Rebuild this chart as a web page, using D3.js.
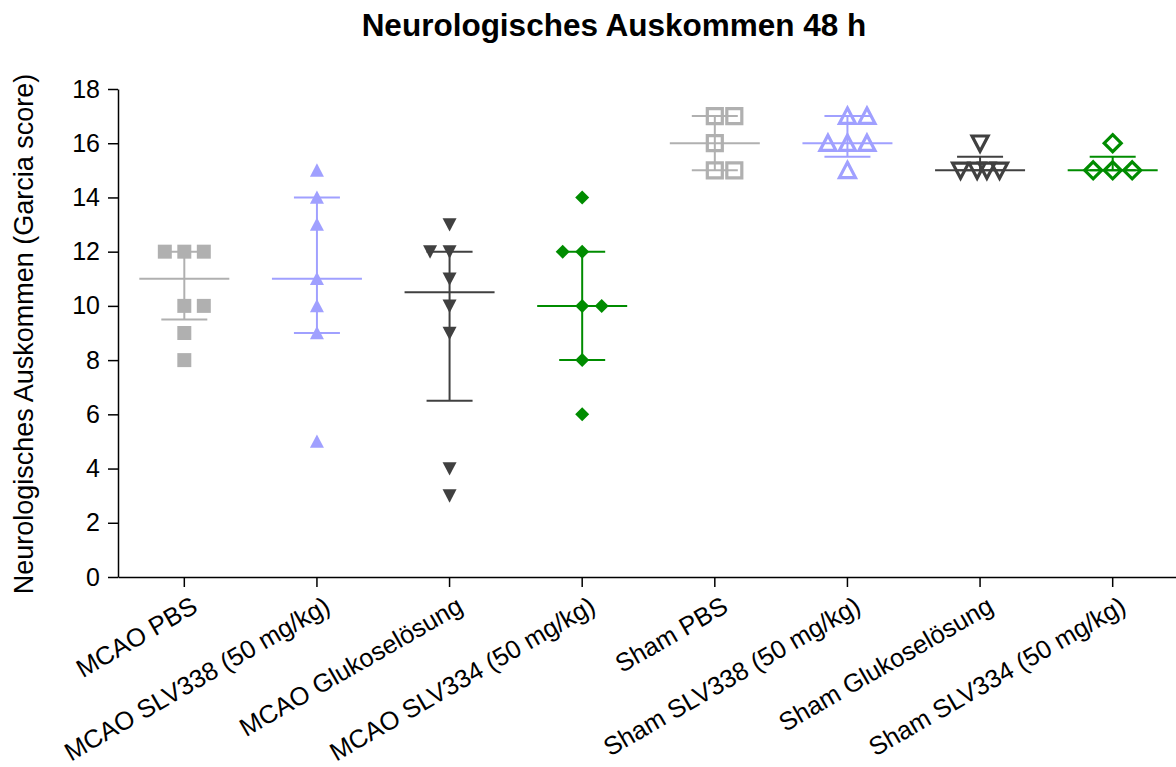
<!DOCTYPE html>
<html>
<head>
<meta charset="utf-8">
<script src="https://cdn.jsdelivr.net/npm/d3@7"></script>
<style>
  html, body { margin: 0; padding: 0; background: #fff; }
  svg { display: block; font-family: "Liberation Sans", Arial, sans-serif; }
</style>
</head>
<body>
<svg id="chart" width="1176" height="767"></svg>
<script>
// Groups along the x axis
const categories = [
  "MCAO PBS", "MCAO SLV338 (50 mg/kg)", "MCAO Glukoselösung", "MCAO SLV334 (50 mg/kg)",
  "Sham PBS", "Sham SLV338 (50 mg/kg)", "Sham Glukoselösung", "Sham SLV334 (50 mg/kg)"
];

// Individual Garcia scores per group
const scoresMcaoPbs     = [12, 12, 12, 10, 10, 9, 8];
const scoresMcaoSlv338  = [15, 14, 13, 11, 10, 9, 5];
const scoresMcaoGlukose = [13, 12, 12, 11, 10, 9, 4, 3];
const scoresMcaoSlv334  = [14, 12, 12, 10, 10, 8, 6];
const scoresShamPbs     = [17, 17, 16, 15, 15];
const scoresShamSlv338  = [17, 17, 16, 16, 16, 15];
const scoresShamGlukose = [16, 15, 15, 15, 15];
const scoresShamSlv334  = [16, 15, 15, 15];

// Scatter column of each score inside its group (0 = centre)
const lanesMcaoPbs     = [-1, 0, 1, 0, 1, 0, 0];
const lanesMcaoSlv338  = [0, 0, 0, 0, 0, 0, 0];
const lanesMcaoGlukose = [0, -1, 0, 0, 0, 0, 0, 0];
const lanesMcaoSlv334  = [0, -1, 0, 0, 1, 0, 0];
const lanesShamPbs     = [0, 1, 0, 0, 1];
const lanesShamSlv338  = [0, 1, -1, 0, 1, 0];
const lanesShamGlukose = [0, -1, -0.15, 0.35, 1];
const lanesShamSlv334  = [0, -1, 0, 1];

// Median and interquartile range per group
const medians = [11, 11, 10.5, 10, 16, 16, 15, 15];
const q1      = [9.5, 9, 6.5, 8, 15, 15.5, 15, 15];
const q3      = [12, 14, 12, 12, 17, 17, 15.5, 15.5];

const yTicks = [0, 2, 4, 6, 8, 10, 12, 14, 16, 18];

const scores = [scoresMcaoPbs, scoresMcaoSlv338, scoresMcaoGlukose, scoresMcaoSlv334,
                scoresShamPbs, scoresShamSlv338, scoresShamGlukose, scoresShamSlv334];
const lanes  = [lanesMcaoPbs, lanesMcaoSlv338, lanesMcaoGlukose, lanesMcaoSlv334,
                lanesShamPbs, lanesShamSlv338, lanesShamGlukose, lanesShamSlv334];

// Styling per group
const colors  = ["#b0b0b0", "#a0a0ff", "#404040", "#008c00",
                 "#b0b0b0", "#a0a0ff", "#404040", "#008c00"];
const shapes  = ["square", "up", "down", "diamond", "square", "up", "down", "diamond"];
const hollow  = [false, false, false, false, true, true, true, true];

const svg = d3.select("#chart");
const margin = { left: 118, top: 89, bottom: 577 };
const xRight = 1179;

const x = d3.scaleBand().domain(categories).range([margin.left, xRight]).paddingInner(0).paddingOuter(0);
const y = d3.scaleLinear().domain([0, 18]).range([margin.bottom, margin.top]);
const lane = d3.scaleLinear().domain([-1, 1]).range([-19.5, 19.5]);
const cx = c => x(c) + x.bandwidth() / 2;

// Title
svg.append("text")
  .attr("x", 614).attr("y", 36)
  .attr("text-anchor", "middle")
  .attr("font-size", 31.5).attr("font-weight", "bold")
  .text("Neurologisches Auskommen 48 h");

// Y axis
const yAxis = svg.append("g")
  .attr("transform", `translate(${margin.left},0)`)
  .call(d3.axisLeft(y).tickValues(yTicks).tickSize(10).tickPadding(8).tickSizeOuter(0));
yAxis.selectAll("text").attr("font-size", 25).attr("font-family", "Liberation Sans, Arial, sans-serif").attr("fill", "#000");
yAxis.selectAll("line, path").attr("stroke", "#000").attr("stroke-width", 1.5);

svg.append("text")
  .attr("transform", `translate(33,${(margin.top + margin.bottom) / 2 + 1}) rotate(-90)`)
  .attr("text-anchor", "middle")
  .attr("font-size", 27)
  .text("Neurologisches Auskommen (Garcia score)");

// X axis
const xAxis = svg.append("g")
  .attr("transform", `translate(0,${margin.bottom})`)
  .call(d3.axisBottom(x).tickSize(10).tickSizeOuter(0));
xAxis.selectAll("line, path").attr("stroke", "#000").attr("stroke-width", 1.5);
xAxis.selectAll("text")
  .attr("font-size", 25.5)
  .attr("font-family", "Liberation Sans, Arial, sans-serif")
  .attr("fill", "#000")
  .attr("text-anchor", "end")
  .attr("dy", null)
  .attr("y", null)
  .attr("transform", "translate(15,34) rotate(-30)");

// Median lines and interquartile bars
const summary = svg.append("g");
categories.forEach((c, i) => {
  const g = summary.append("g").attr("stroke", colors[i]).attr("stroke-width", 2).attr("fill", "none");
  const xc = cx(c);
  g.append("line").attr("x1", xc).attr("x2", xc).attr("y1", y(q1[i])).attr("y2", y(q3[i]));
  g.append("line").attr("x1", xc - 45).attr("x2", xc + 45).attr("y1", y(medians[i])).attr("y2", y(medians[i]));
  g.append("line").attr("x1", xc - 23).attr("x2", xc + 23).attr("y1", y(q1[i])).attr("y2", y(q1[i]));
  g.append("line").attr("x1", xc - 23).attr("x2", xc + 23).attr("y1", y(q3[i])).attr("y2", y(q3[i]));
});

// Marker paths centred at the origin
function markerPath(shape, s) {
  const h = s / 2;
  if (shape === "square") return `M${-h},${-h}H${h}V${h}H${-h}Z`;
  if (shape === "up") return `M0,${-h}L${h},${h * 0.9}L${-h},${h * 0.9}Z`;
  if (shape === "down") return `M0,${h}L${h},${-h * 0.9}L${-h},${-h * 0.9}Z`;
  return `M0,${-h}L${h},0L0,${h}L${-h},0Z`;
}

// Individual points
const pts = svg.append("g");
categories.forEach((c, i) => {
  const open = hollow[i];
  let size = 14;
  if (open) size = shapes[i] === "square" ? 15 : shapes[i] === "diamond" ? 17 : 16;
  pts.append("g").selectAll("path")
    .data(scores[i].map((v, k) => ({ v, l: lanes[i][k] })))
    .join("path")
    .attr("d", markerPath(shapes[i], size))
    .attr("transform", d => `translate(${cx(c) + lane(d.l)},${y(d.v)})`)
    .attr("fill", open ? "none" : colors[i])
    .attr("stroke", open ? colors[i] : "none")
    .attr("stroke-width", open ? 3.2 : 0)
    .attr("stroke-linejoin", "miter");
});
</script>
</body>
</html>
